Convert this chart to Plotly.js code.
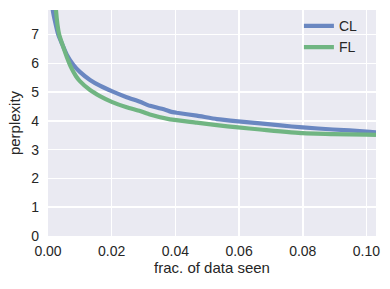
<!DOCTYPE html>
<html>
<head>
<meta charset="utf-8">
<script src="https://cdn.plot.ly/plotly-3.0.1.min.js"></script>
<style>html,body{margin:0;padding:0;background:#fff;}#chart{width:390px;height:289px;}</style>
</head>
<body>
<div id="chart"></div>
<script>
// data
var clX = [0.0010, 0.0015, 0.0032, 0.0045, 0.0059, 0.0080, 0.0100, 0.0132, 0.0163, 0.0200, 0.0247, 0.0289, 0.0320, 0.0370, 0.0385, 0.0404, 0.0467, 0.0530, 0.0597, 0.0666, 0.0730, 0.0800, 0.0895, 0.1000, 0.1030];
var clY = [9.5, 7.85, 7.0, 6.65, 6.30, 5.94, 5.70, 5.42, 5.22, 5.03, 4.82, 4.66, 4.52, 4.38, 4.32, 4.28, 4.18, 4.06, 3.98, 3.91, 3.84, 3.77, 3.70, 3.63, 3.60];
var flX = [0.0020, 0.0025, 0.0035, 0.0050, 0.0059, 0.0074, 0.0088, 0.0100, 0.0132, 0.0163, 0.0200, 0.0247, 0.0289, 0.0320, 0.0383, 0.0467, 0.0530, 0.0597, 0.0666, 0.0800, 0.0895, 0.1000, 0.1030];
var flY = [9.5, 7.85, 7.0, 6.5, 6.22, 5.82, 5.55, 5.38, 5.07, 4.86, 4.66, 4.47, 4.34, 4.22, 4.05, 3.94, 3.85, 3.77, 3.70, 3.57, 3.54, 3.52, 3.51];
var seriesNames = ["CL", "FL"];
var xTicks = [0, 0.02, 0.04, 0.06, 0.08, 0.10];
var xTickText = ["0.00", "0.02", "0.04", "0.06", "0.08", "0.10"];
var yTicks = [0, 1, 2, 3, 4, 5, 6, 7];

var font = "Liberation Sans, Arial, sans-serif";
var traces = [
  {x: clX, y: clY, name: seriesNames[0], mode: "lines", line: {color: "#6A87C1", width: 4.2, shape: "spline", smoothing: 0.5}},
  {x: flX, y: flY, name: seriesNames[1], mode: "lines", line: {color: "#70B582", width: 4.2, shape: "spline", smoothing: 0.5}}
];
var layout = {
  width: 390, height: 289,
  margin: {l: 48, r: 14, t: 10, b: 53},
  paper_bgcolor: "#ffffff",
  plot_bgcolor: "#EAEAF2",
  font: {family: font, size: 14, color: "#262626"},
  showlegend: true,
  legend: {x: 0.765, y: 0.999, xanchor: "left", yanchor: "top", bgcolor: "rgba(0,0,0,0)", font: {size: 14, color: "#262626"}, tracegroupgap: 0, itemwidth: 30},
  xaxis: {
    range: [0, 0.103], tickvals: xTicks, ticktext: xTickText,
    showgrid: true, gridcolor: "#ffffff", gridwidth: 1.5, zeroline: false, showline: false,
    ticks: "", ticklabelstandoff: 5, tickfont: {size: 14},
    title: {text: "frac. of data seen", font: {size: 15}, standoff: 4}
  },
  yaxis: {
    range: [0, 7.85], tickvals: yTicks,
    showgrid: true, gridcolor: "#ffffff", gridwidth: 1.5, zeroline: false, showline: false,
    ticks: "", ticklabelstandoff: 8, tickfont: {size: 14},
    title: {text: "perplexity", font: {size: 15}, standoff: 6}
  }
};
Plotly.newPlot("chart", traces, layout, {displayModeBar: false, staticPlot: true});
</script>
</body>
</html>
